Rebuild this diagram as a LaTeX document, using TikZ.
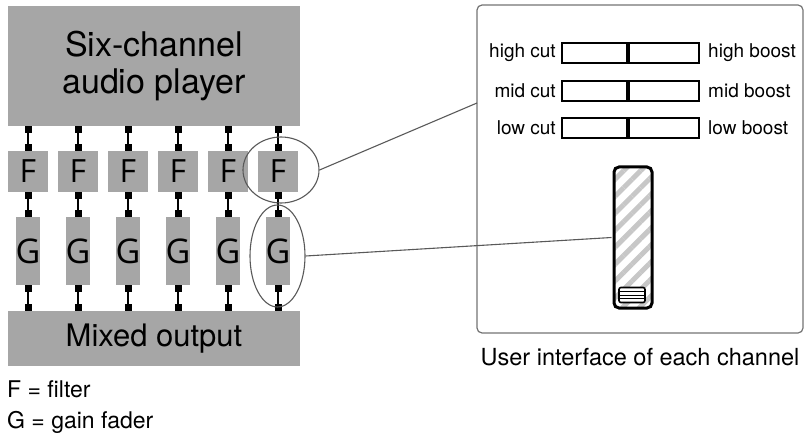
\documentclass[tikz,border=0pt]{standalone}
\usepackage{fontspec}
\setmainfont{TeX Gyre Heros}
\newfontfamily\letterfont{Open Sans}
\usetikzlibrary{positioning,arrows.meta,shapes.geometric,patterns.meta}
\definecolor{boxgray}{RGB}{166,166,166}
\tikzset{
  block/.style={fill=boxgray, inner sep=0pt, align=center},
  link/.style={line width=2.6pt, {Square[length=7pt,width=7pt]}-{Square[length=7pt,width=7pt]}},
  slider/.style={draw, line width=1.4pt, minimum width=137pt, minimum height=20pt, inner sep=0pt},
  callout/.style={draw=black!65, line width=1.1pt},
}

\begin{document}
\begin{tikzpicture}[x=1pt,y=-1pt]
\useasboundingbox (0,0) rectangle (805,438);

\node[block, minimum width=292pt, minimum height=120pt, font=\fontsize{34}{37}\selectfont] (player) at (154,66) {Six-channel\\audio player};
\node[block, minimum width=292pt, minimum height=55pt, font=\fontsize{31}{31}\selectfont] (mix) at (154,338.5) {Mixed output};

% six channels
\foreach \i in {1,...,6} {
  \node[block, minimum width=40pt, minimum height=41pt, font=\letterfont\fontsize{32}{32}\selectfont] (F\i) at ({28+50*(\i-1)},171.5) {F};
  \node[block, minimum width=23pt, minimum height=68pt, font=\letterfont\fontsize{34}{34}\selectfont] (G\i) at ({28+50*(\i-1)},251) {G};
  \draw[link] (player.south -| F\i) -- (F\i.north);
  \draw[link] (F\i.south) -- (G\i.north);
  \draw[link] (G\i.south) -- (mix.north -| G\i);
}

\node[draw, ellipse, callout, minimum width=76pt, minimum height=66pt] (selF) at (281,170) {};
\node[draw, ellipse, callout, minimum width=55pt, minimum height=102pt] (selG) at (277.5,256) {};

\node[anchor=base west, inner sep=0pt, font=\fontsize{23}{23}\selectfont] (legF) at (7,397) {F = filter};
\node[anchor=base west, inner sep=0pt, font=\fontsize{23}{23}\selectfont] (legG) at (7,428) {G = gain fader};

% user interface
\node[draw=black!55, line width=1.2pt, rounded corners=5pt, minimum width=326pt, minimum height=328pt] (panel) at (640,169) {};
\node[anchor=base, font=\fontsize{23.5}{23.5}\selectfont] (caption) at (640,365) {User interface of each channel};

\foreach \n/\y in {high/53, mid/91, low/128} {
  \node[slider] (\n s) at (630.5,\y) {};
  \draw[line width=4.5pt] ([xshift=-2.5pt]\n s.north) -- ([xshift=-2.5pt]\n s.south);
  \node[left=2pt of \n s, font=\fontsize{19}{19}\selectfont] (\n cut) {\n\ cut};
  \node[right=5pt of \n s, font=\fontsize{19}{19}\selectfont] (\n boost) {\n\ boost};
}

\node[draw, line width=3pt, rounded corners=5pt, minimum width=38pt, minimum height=141pt,
  pattern={Lines[angle=45,distance=12pt,line width=5pt]}, pattern color=black!22] (fader) at (633,237.5) {};
\node[draw, fill=white, line width=1.6pt, rounded corners=2pt, minimum width=26pt, minimum height=15pt] (knob) at (632,295) {};
\foreach \k in {-3.5,0,3.5}
  \draw[line width=1pt] ([yshift=\k pt]knob.west) -- ([yshift=\k pt]knob.east);

\coordinate (uiF) at (477,103);
\draw[callout] (selF.east) -- (uiF);
\draw[callout] (selG.east) -- (fader.west);

\end{tikzpicture}
\end{document}
